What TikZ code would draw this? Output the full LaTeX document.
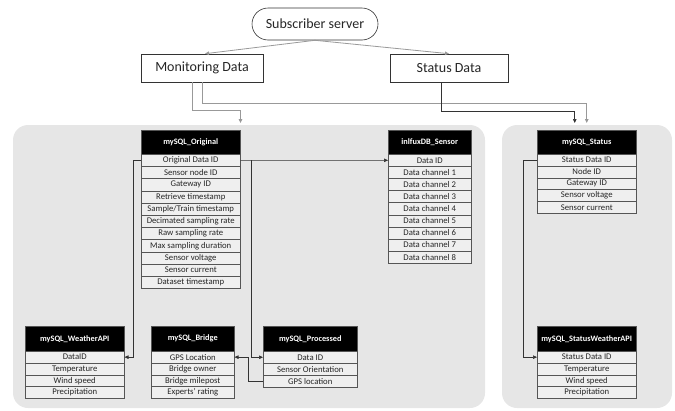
\documentclass[tikz,border=0pt]{standalone}
\usepackage{fontspec}
\setmainfont{Carlito}
\usetikzlibrary{arrows.meta,calc}
\definecolor{panel}{HTML}{E6E6E6}
\definecolor{rowfill}{HTML}{EFEFEF}
\definecolor{rowline}{HTML}{555555}
\definecolor{conn}{HTML}{333333}
\definecolor{lconn}{HTML}{999999}
\newcommand\dbtable[8]{%
  \node[hdr, minimum width=#4pt, minimum height=#5pt] (#1-h) at (#2,#3) {#7};
  \foreach \t [count=\i] in {#8} {
    \pgfmathsetmacro\yy{#3+#5+(\i-1)*#6}
    \node[row, minimum width=#4pt, minimum height=#6pt] (#1-\i) at (#2,\yy) {\t};
  }
}
\begin{document}
\begin{tikzpicture}[x=1pt,y=-1pt,
  panelbox/.style={fill=panel, rounded corners=15pt, draw=none},
  topbox/.style={draw=black!80, fill=white, line width=0.6pt, inner sep=0pt, font=\fontsize{14}{16}\selectfont, text=black!85},
  hdr/.style={draw=rowline, fill=black, text=white, font=\bfseries\fontsize{8.3}{9}\selectfont, inner sep=0pt, anchor=north west, line width=0.5pt},
  row/.style={draw=rowline, fill=rowfill, text=black!85, font=\fontsize{8.7}{9}\selectfont, inner sep=0pt, anchor=north west, line width=0.5pt},
  arr/.style={draw=conn, line width=0.6pt, -{Triangle[length=4pt,width=3.5pt]}},
  larr/.style={draw=lconn, line width=0.8pt, -{Triangle[length=4pt,width=3.5pt]}},
  darr/.style={draw=conn, line width=0.7pt, -{Triangle[length=4pt,width=3.5pt]}},
]
\useasboundingbox (0,0) rectangle (675,410);
% panels
\fill[panelbox] (13,125) rectangle (485,408);
\fill[panelbox] (502,125) rectangle (672,408);
% top nodes
\node[topbox, rounded corners=16pt, minimum width=126pt, minimum height=32pt] (sub) at (315,24) {Subscriber server};
\node[topbox, minimum width=122pt, minimum height=28pt] (mon) at (202,68) {Monitoring Data};
\node[topbox, minimum width=118pt, minimum height=28pt] (sd) at (449,68) {Status Data};
% tables
\dbtable{orig}{141}{130}{99}{24}{12.2}{mySQL\_Original}{Original Data ID,Sensor node ID,Gateway ID,Retrieve timestamp,Sample/Train timestamp,Decimated sampling rate,Raw sampling rate,Max sampling duration,Sensor voltage,Sensor current,Dataset timestamp}
\dbtable{infl}{388}{130}{83}{24}{12.1}{inlfuxDB\_Sensor}{Data ID,Data channel 1,Data channel 2,Data channel 3,Data channel 4,Data channel 5,Data channel 6,Data channel 7,Data channel 8}
\dbtable{stat}{537}{130}{99}{24}{11.8}{mySQL\_Status}{Status Data ID,Node ID,Gateway ID,Sensor voltage,Sensor current}
\dbtable{wea}{25}{326}{99}{25}{11.8}{mySQL\_WeatherAPI}{DataID,Temperature,Wind speed,Precipitation}
\dbtable{bri}{151}{326}{83}{25}{11.8}{mySQL\_Bridge}{GPS Location,Bridge owner,Bridge milepost,Experts' rating}
\dbtable{proc}{263}{326}{94}{25}{12}{mySQL\_Processed}{Data ID,Sensor Orientation,GPS location}
\dbtable{sw}{537}{326}{99}{25}{11.8}{mySQL\_StatusWeatherAPI}{Status Data ID,Temperature,Wind speed,Precipitation}
% top connectors
\draw[larr] (sub.south) -- ([xshift=3pt]mon.north);
\draw[larr] (sub.south) -- (sd.north);
\coordinate (origIn) at ([yshift=7pt]orig-h.north east);
\coordinate (statInA) at ([xshift=-12pt,yshift=7pt]stat-h.north);
\coordinate (statInB) at ([yshift=7pt]stat-h.north);
\draw[larr] ([xshift=-10pt]mon.south) -- ++(0,28) -| (origIn);
\draw[larr] (mon.south) -- ++(0,21) -| (statInB);
\draw[darr] ([xshift=-8pt]sd.south) -- ++(0,29) -| (statInA);
% table connectors
\draw[arr] (orig-1.west) -- ++(-8,0) |- (wea-1.east);
\draw[arr] (orig-1.east) -- (infl-1.west);
\draw[arr] ([xshift=11pt]orig-1.east) |- (proc-1.west);
\draw[arr] (proc-3.west) -- ++(-15,0) |- (bri-1.east);
\draw[arr] (stat-1.west) -- ++(-14,0) |- (sw-1.west);
\end{tikzpicture}
\end{document}
